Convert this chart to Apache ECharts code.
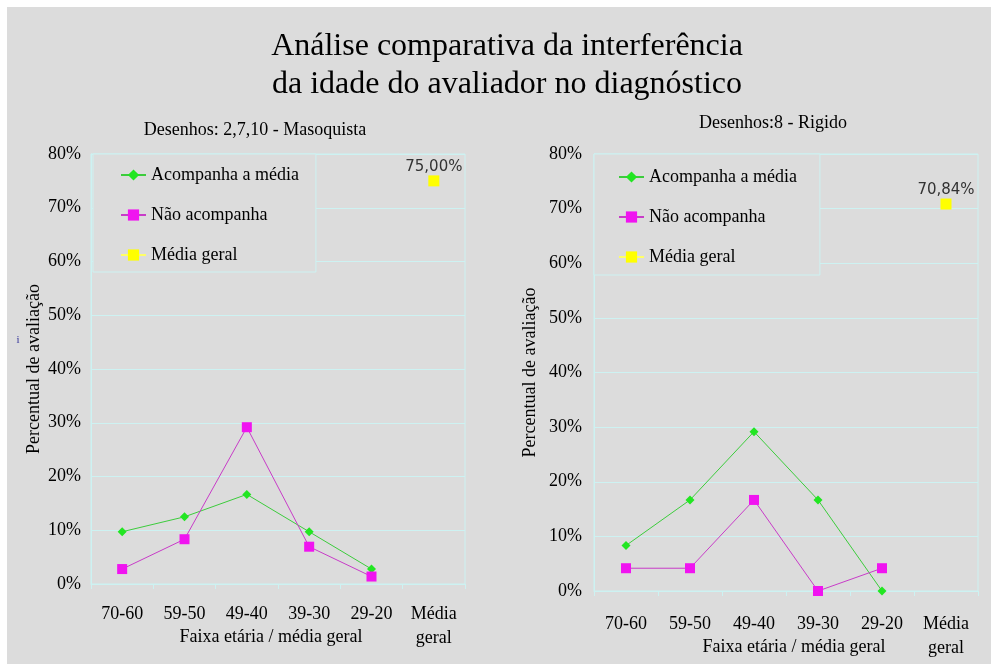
<!DOCTYPE html>
<html>
<head>
<meta charset="utf-8">
<script src="https://cdn.jsdelivr.net/npm/echarts@6/dist/echarts.min.js"></script>
<style>
html,body{margin:0;padding:0;background:#fff;}
#wrap{position:relative;width:991px;height:664px;background:#fff;}
#c{position:absolute;left:7px;top:7px;width:984px;height:657px;}
</style>
</head>
<body>
<div id="wrap"><div id="c"></div></div>
<script>
// ---- data ----
const categories = ['70-60', '59-50', '49-40', '39-30', '29-20', 'Média\ngeral'];
const yTicks = [0, 10, 20, 30, 40, 50, 60, 70, 80];

const leftTitle = 'Desenhos: 2,7,10 - Masoquista';
const leftAcompanha = [9.72, 12.5, 16.67, 9.72, 2.78, null];
const leftNaoAcompanha = [2.78, 8.33, 29.17, 6.94, 1.39, null];
const leftMediaGeral = [null, null, null, null, null, 75.0];

const rightTitle = 'Desenhos:8 - Rigido';
const rightAcompanha = [8.33, 16.67, 29.17, 16.67, 0, null];
const rightNaoAcompanha = [4.17, 4.17, 16.67, 0, 4.17, null];
const rightMediaGeral = [null, null, null, null, null, 70.84];

const seriesNames = ['Acompanha a média', 'Não acompanha', 'Média geral'];
const mainTitle = 'Análise comparativa da interferência\nda idade do avaliador no diagnóstico';
const yName = 'Percentual de avaliação';
const xName = 'Faixa etária / média geral';

// ---- styles ----
const SERIF = '"Liberation Serif", "Times New Roman", serif';
const GRIDC = '#cdf2f2';
const BG = '#dcdcdc';

function xAxis(gridIndex, margin, nameGap, shift) {
  return {
    type: 'category', gridIndex, data: categories,
    axisLine: { show: true, lineStyle: { color: GRIDC, width: 1 } },
    axisTick: { show: true, length: 5, lineStyle: { color: GRIDC } },
    axisLabel: { color: '#000', fontFamily: SERIF, fontSize: 18, margin, lineHeight: 24, interval: 0 },
    name: xName, nameLocation: 'middle', nameGap, nameMoveOverlap: false,
    nameTextStyle: { color: '#000', fontFamily: SERIF, fontSize: 18,
      padding: shift < 0 ? [0, -2 * shift, 0, 0] : [0, 0, 0, 2 * shift] },
    splitLine: { show: false }
  };
}
function yAxis(gridIndex, margin, nameGap) {
  return {
    type: 'value', gridIndex, min: 0, max: 80, interval: 10,
    axisLine: { show: true, lineStyle: { color: GRIDC } },
    axisTick: { show: false },
    axisLabel: { color: '#000', fontFamily: SERIF, fontSize: 18, margin, formatter: '{value}%' },
    splitLine: { show: true, lineStyle: { color: GRIDC, width: 1 } },
    name: yName, nameLocation: 'middle', nameGap, nameRotate: 90, nameMoveOverlap: false,
    nameTextStyle: { color: '#000', fontFamily: SERIF, fontSize: 18 }
  };
}
function seriesFor(idx, acomp, nao, media) {
  return [
    { name: seriesNames[0], type: 'line', xAxisIndex: idx, yAxisIndex: idx, data: acomp,
      symbol: 'diamond', symbolSize: 9, itemStyle: { color: '#22e622' },
      lineStyle: { color: '#3ccc3c', width: 1 }, connectNulls: false, z: 3 },
    { name: seriesNames[1], type: 'line', xAxisIndex: idx, yAxisIndex: idx, data: nao,
      symbol: 'rect', symbolSize: 10, itemStyle: { color: '#f014f0' },
      lineStyle: { color: '#c83cc8', width: 1 }, z: 3 },
    { name: seriesNames[2], type: 'line', xAxisIndex: idx, yAxisIndex: idx, data: media,
      symbol: 'rect', symbolSize: 11, itemStyle: { color: '#ffff00' },
      lineStyle: { color: '#ffff66', width: 1 }, z: 3,
      label: { show: true, position: 'top', distance: 1, color: '#333',
        fontFamily: '"DejaVu Sans", sans-serif', fontSize: 15,
        formatter: p => p.value == null ? '' : p.value.toFixed(2).replace('.', ',') + '%' } }
  ];
}
function legend(left, padding) {
  return {
    orient: 'vertical', left, top: 147, padding, itemGap: 22,
    itemWidth: 25, itemHeight: 14,
    backgroundColor: BG, borderColor: GRIDC, borderWidth: 1,
    textStyle: { color: '#000', fontFamily: SERIF, fontSize: 18 },
    data: seriesNames, z: 5
  };
}

const chart = echarts.init(document.getElementById('c'), null, { renderer: 'canvas' });
chart.setOption({
  backgroundColor: BG,
  animation: false,
  legend: [legend(86, [12, 17, 8, 27]), legend(587, [14, 23, 9, 24])],
  grid: [
    { left: 84, top: 147, width: 374, height: 430, show: true, borderColor: GRIDC, borderWidth: 1,
      backgroundColor: 'transparent', containLabel: false, outerBoundsMode: 'none' },
    { left: 587, top: 147, width: 384, height: 437, show: true, borderColor: GRIDC, borderWidth: 1,
      backgroundColor: 'transparent', containLabel: false, outerBoundsMode: 'none' }
  ],
  xAxis: [xAxis(0, 18, 44, -7), xAxis(1, 21, 47, 8)],
  yAxis: [yAxis(0, 10, 48), yAxis(1, 12, 55)],
  series: [].concat(
    seriesFor(0, leftAcompanha, leftNaoAcompanha, leftMediaGeral),
    seriesFor(1, rightAcompanha, rightNaoAcompanha, rightMediaGeral)
  ),
  graphic: [
    { type: 'text', x: 500, y: 59, style: { text: mainTitle, textAlign: 'center', textVerticalAlign: 'middle',
      font: '32px ' + SERIF, lineHeight: 38, fill: '#000' } },
    { type: 'text', x: 248, y: 123, style: { text: leftTitle, textAlign: 'center', textVerticalAlign: 'middle',
      font: '18px ' + SERIF, fill: '#000' } },
    { type: 'text', x: 766, y: 116, style: { text: rightTitle, textAlign: 'center', textVerticalAlign: 'middle',
      font: '18px ' + SERIF, fill: '#000' } },
    { type: 'text', x: 11, y: 333, style: { text: 'i', textAlign: 'center', textVerticalAlign: 'middle',
      font: '11px ' + SERIF, fill: '#33339a' } }
  ]
});
</script>
</body>
</html>
